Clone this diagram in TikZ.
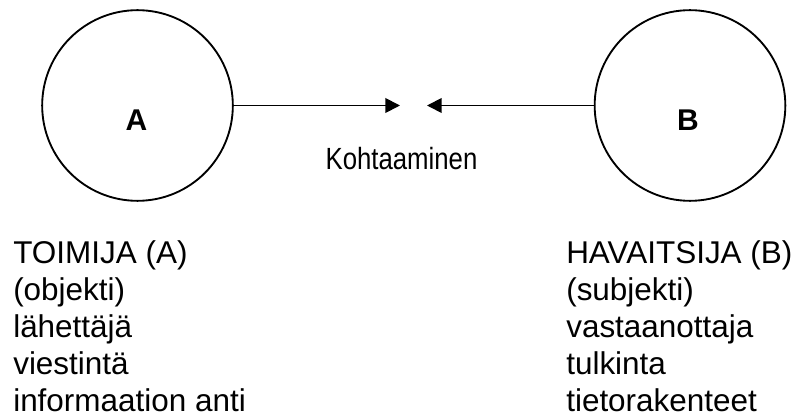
\documentclass[tikz,border=0pt]{standalone}
\usepackage{fontspec}
\setmainfont{Liberation Sans}
\newfontfamily\narrowfont[FakeStretch=0.84]{Liberation Sans}
\usetikzlibrary{arrows.meta}

\begin{document}
\begin{tikzpicture}[x=0.75pt,y=-0.75pt,
	circ/.style={draw,circle,line width=1.4pt,minimum size=143pt,inner sep=0pt},
	arr/.style={line width=1.4pt,-{Triangle[length=11pt,width=11pt]}},
	tag/.style={inner sep=0pt,anchor=base,font=\fontsize{22.5}{27}\selectfont\bfseries},
	col/.style={inner sep=0pt,anchor=base west,align=left,font=\fontsize{23.6}{27.75}\selectfont}]
	\useasboundingbox (0,0) rectangle (800,417);
	%\draw [help lines,step=50] (0,0) grid (800,417);
	\node [circ] (A) at (137.5,105.5) {};
	\node [circ] (B) at (690,105.5) {};
	\node [tag] (a) at (136.5,131) {A};
	\node [tag] (b) at (688,131) {B};
	% kohtaaminen
	\coordinate (ka) at (400,105.5);
	\coordinate (kb) at (427,105.5);
	\draw [arr] (A.east) -- (ka);
	\draw [arr] (B.west) -- (kb);
	\node [inner sep=0pt,anchor=base,font=\narrowfont\fontsize{23}{27}\selectfont] (k) at (401.5,170) {Kohtaaminen};
	% rooli (base = viimeinen rivi)
	\node [col] (toimija) at (13,411) {TOIMIJA (A)\\(objekti)\\lähettäjä\\viestintä\\informaation anti};
	\node [col] (havaitsija) at (566,411) {HAVAITSIJA (B)\\(subjekti)\\vastaanottaja\\tulkinta\\tietorakenteet};
\end{tikzpicture}
\end{document}
